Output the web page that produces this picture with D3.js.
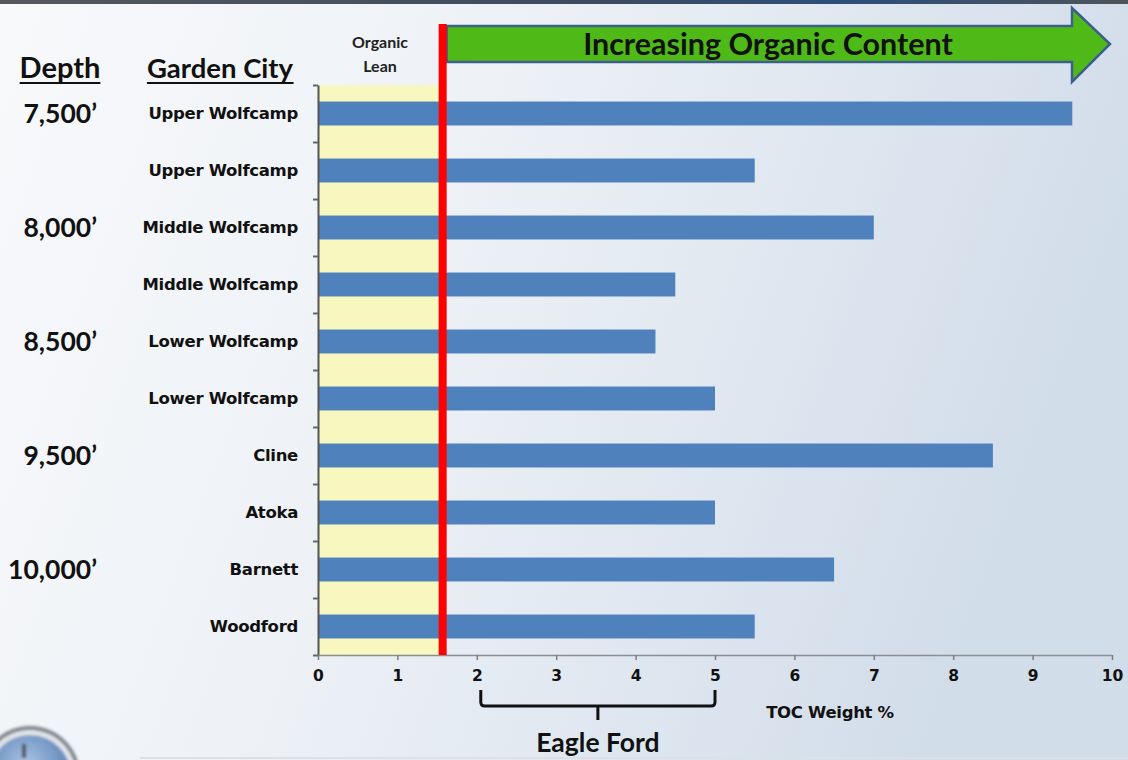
<!DOCTYPE html>
<html>
<head>
<meta charset="utf-8">
<script src="https://cdn.jsdelivr.net/npm/d3@7"></script>
<style>
  html, body { margin: 0; padding: 0; background: #fff; }
  svg { display: block; }
</style>
</head>
<body>
<svg id="chart" width="1128" height="760"></svg>
<script>
// Garden City formations, top to bottom
const formations = ["Upper Wolfcamp", "Upper Wolfcamp", "Middle Wolfcamp", "Middle Wolfcamp",
  "Lower Wolfcamp", "Lower Wolfcamp", "Cline", "Atoka", "Barnett", "Woodford"];
// Total organic carbon, weight %
const tocValues = [9.5, 5.5, 7.0, 4.5, 4.25, 5.0, 8.5, 5.0, 6.5, 5.5];
// Depth markers: row index they sit beside and their label
const depthRows = [0, 2, 4, 6, 8];
const depthLabels = ["7,500\u2019", "8,000\u2019", "8,500\u2019", "9,500\u2019", "10,000\u2019"];
const xTicks = [0, 1, 2, 3, 4, 5, 6, 7, 8, 9, 10];
// Organic-lean threshold and Eagle Ford range (TOC %)
const leanCutoff = 1.57;
const eagleFordRange = [2.05, 5.0];

const svg = d3.select("#chart");
const W = 1128, H = 760;
const plot = { left: 318, right: 1112, top: 85, bottom: 655 };

// ---- background ----
const defs = svg.append("defs");
const bg = defs.append("linearGradient").attr("id", "bg").attr("x1", 0).attr("y1", 0).attr("x2", 1).attr("y2", 0.25);
bg.append("stop").attr("offset", "0%").attr("stop-color", "#f8f9fb");
bg.append("stop").attr("offset", "45%").attr("stop-color", "#edf1f6");
bg.append("stop").attr("offset", "100%").attr("stop-color", "#d2ddea");
svg.append("rect").attr("width", W).attr("height", H).attr("fill", "url(#bg)");

const topBar = defs.append("linearGradient").attr("id", "topbar").attr("x1", 0).attr("x2", 1);
topBar.append("stop").attr("offset", "0%").attr("stop-color", "#55585d");
topBar.append("stop").attr("offset", "55%").attr("stop-color", "#3b4a60");
topBar.append("stop").attr("offset", "75%").attr("stop-color", "#2d4e7a");
topBar.append("stop").attr("offset", "100%").attr("stop-color", "#4f545a");
svg.append("rect").attr("x", 0).attr("y", 0).attr("width", W).attr("height", 4).attr("fill", "url(#topbar)");
svg.append("line").attr("x1", 140).attr("x2", W).attr("y1", 758).attr("y2", 758)
  .attr("stroke", "#dde1e6").attr("stroke-width", 2);

// bottom-left badge
const badge = defs.append("radialGradient").attr("id", "badge").attr("cx", 0.45).attr("cy", 0.35).attr("r", 0.7);
badge.append("stop").attr("offset", "0%").attr("stop-color", "#a9c4e6");
badge.append("stop").attr("offset", "100%").attr("stop-color", "#4b73a8");
const blur = defs.append("filter").attr("id", "soft").attr("x", "-20%").attr("y", "-20%").attr("width", "140%").attr("height", "140%");
blur.append("feGaussianBlur").attr("stdDeviation", 1.4);
const badgeG = svg.append("g").attr("filter", "url(#soft)");
badgeG.append("circle").attr("cx", 30).attr("cy", 776).attr("r", 50).attr("fill", "#7d838b");
badgeG.append("circle").attr("cx", 30).attr("cy", 776).attr("r", 46).attr("fill", "#e3e6ea");
badgeG.append("circle").attr("cx", 30).attr("cy", 776).attr("r", 41).attr("fill", "url(#badge)");
badgeG.append("rect").attr("x", 22).attr("y", 744).attr("width", 4).attr("height", 14).attr("fill", "#4a4f57");

// ---- scales ----
const x = d3.scaleLinear().domain([0, 10]).range([plot.left, plot.right]);
const y = d3.scaleBand().domain(d3.range(formations.length))
  .range([plot.top, plot.bottom]).paddingInner(0.58).paddingOuter(0.29);
const yRow = d3.scaleLinear().domain([0, formations.length]).range([plot.top, plot.bottom]);

// ---- organic lean zone ----
svg.append("rect")
  .attr("x", x(0)).attr("y", plot.top)
  .attr("width", x(leanCutoff) - x(0)).attr("height", plot.bottom - plot.top)
  .attr("fill", "#f8f7c0");

// ---- bars ----
svg.append("g").selectAll("rect").data(tocValues).join("rect")
  .attr("x", x(0))
  .attr("y", (d, i) => y(i))
  .attr("width", d => x(d) - x(0))
  .attr("height", y.bandwidth())
  .attr("fill", "#4f81bd");

// ---- axes ----
const leftAxis = svg.append("g").attr("transform", `translate(${plot.left},0)`)
  .call(d3.axisLeft(yRow).tickValues(d3.range(0, formations.length + 1)).tickFormat("").tickSize(5).tickSizeOuter(0));
leftAxis.select(".domain").attr("stroke", "#555").attr("stroke-width", 2);
leftAxis.selectAll(".tick line").attr("stroke", "#666").attr("stroke-width", 2);

const bottomAxis = svg.append("g").attr("transform", `translate(0,${plot.bottom})`)
  .call(d3.axisBottom(x).tickValues(xTicks).tickFormat(d3.format("d")).tickSize(5).tickSizeOuter(0).tickPadding(10));
bottomAxis.select(".domain").attr("stroke", "#8a8d92").attr("stroke-width", 1.5);
bottomAxis.selectAll(".tick line").attr("stroke", "#7a7d82").attr("stroke-width", 1.5);
bottomAxis.selectAll(".tick text")
  .attr("font-family", "DejaVu Sans, Verdana, sans-serif").attr("font-weight", "bold")
  .attr("font-size", 15.5).attr("fill", "#111");

// ---- formation labels ----
svg.append("g").selectAll("text").data(formations).join("text")
  .attr("x", 298)
  .attr("y", (d, i) => y(i) + y.bandwidth() / 2)
  .attr("dy", "0.36em")
  .attr("text-anchor", "end")
  .attr("font-family", "DejaVu Sans, Verdana, sans-serif")
  .attr("font-weight", "bold").attr("font-size", 16.5).attr("letter-spacing", -0.3)
  .attr("fill", "#111")
  .text(d => d);

// ---- depth labels ----
svg.append("g").selectAll("text").data(depthLabels).join("text")
  .attr("x", 97)
  .attr("y", (d, i) => y(depthRows[i]) + y.bandwidth() / 2)
  .attr("dy", "0.36em")
  .attr("text-anchor", "end")
  .attr("font-family", "Lato, Open Sans, sans-serif")
  .attr("font-weight", "bold").attr("font-size", 26.5)
  .attr("fill", "#111")
  .text(d => d);

// ---- column headers ----
function header(txt, cx, baseline, size) {
  const t = svg.append("text").attr("x", cx).attr("y", baseline)
    .attr("text-anchor", "middle")
    .attr("font-family", "Lato, Open Sans, sans-serif")
    .attr("font-weight", "bold").attr("font-size", size).attr("fill", "#111")
    .text(txt);
  const bb = t.node().getBBox();
  svg.append("line").attr("x1", bb.x).attr("x2", bb.x + bb.width)
    .attr("y1", baseline + 5).attr("y2", baseline + 5)
    .attr("stroke", "#111").attr("stroke-width", 2);
}
header("Depth", 60, 78, 29);
header("Garden City", 220, 78, 27.5);

svg.append("text").attr("x", 380).attr("text-anchor", "middle")
  .attr("font-family", "Lato, Open Sans, sans-serif").attr("font-weight", "bold")
  .attr("font-size", 16).attr("fill", "#222")
  .selectAll("tspan").data(["Organic", "Lean"]).join("tspan")
  .attr("x", 380).attr("y", (d, i) => 48 + i * 24).text(d => d);

// ---- increasing organic content arrow ----
const ax0 = x(leanCutoff) + 4, axHead = 1072, axTip = 1110;
const bodyTop = 26, bodyBot = 62, headTop = 8, headBot = 82, mid = 44;
const arrowPath = d3.path();
arrowPath.moveTo(ax0, bodyTop);
arrowPath.lineTo(axHead, bodyTop);
arrowPath.lineTo(axHead, headTop);
arrowPath.lineTo(axTip, mid);
arrowPath.lineTo(axHead, headBot);
arrowPath.lineTo(axHead, bodyBot);
arrowPath.lineTo(ax0, bodyBot);
arrowPath.closePath();
svg.append("path").attr("d", arrowPath.toString())
  .attr("fill", "#4fba17").attr("stroke", "#3c5f8c").attr("stroke-width", 2.5)
  .attr("stroke-linejoin", "miter");
svg.append("text").attr("x", 768).attr("y", mid).attr("dy", "0.35em")
  .attr("text-anchor", "middle")
  .attr("font-family", "Lato, Open Sans, sans-serif").attr("font-weight", "bold")
  .attr("font-size", 30.5).attr("fill", "#111")
  .text("Increasing Organic Content");

// ---- organic lean threshold line ----
svg.append("line")
  .attr("x1", x(leanCutoff)).attr("x2", x(leanCutoff))
  .attr("y1", 24).attr("y2", plot.bottom)
  .attr("stroke", "#ff0000").attr("stroke-width", 8);

// ---- axis title ----
svg.append("text").attr("x", 830).attr("y", 718).attr("text-anchor", "middle")
  .attr("font-family", "DejaVu Sans, Verdana, sans-serif").attr("font-weight", "bold")
  .attr("font-size", 16.5).attr("letter-spacing", -0.3).attr("fill", "#111")
  .text("TOC Weight %");

// ---- Eagle Ford bracket ----
const bx0 = x(eagleFordRange[0]), bx1 = x(eagleFordRange[1]);
const bmid = (bx0 + bx1) / 2;
const bracket = d3.path();
bracket.moveTo(bx0, 690);
bracket.lineTo(bx0, 702);
bracket.quadraticCurveTo(bx0, 706, bx0 + 4, 706);
bracket.lineTo(bx1 - 4, 706);
bracket.quadraticCurveTo(bx1, 706, bx1, 702);
bracket.lineTo(bx1, 690);
bracket.moveTo(bmid, 706);
bracket.lineTo(bmid, 720);
svg.append("path").attr("d", bracket.toString())
  .attr("fill", "none").attr("stroke", "#111").attr("stroke-width", 3);
svg.append("text").attr("x", bmid).attr("y", 752).attr("text-anchor", "middle")
  .attr("font-family", "Lato, Open Sans, sans-serif").attr("font-weight", "bold")
  .attr("font-size", 26.5).attr("fill", "#111")
  .text("Eagle Ford");
</script>
</body>
</html>
